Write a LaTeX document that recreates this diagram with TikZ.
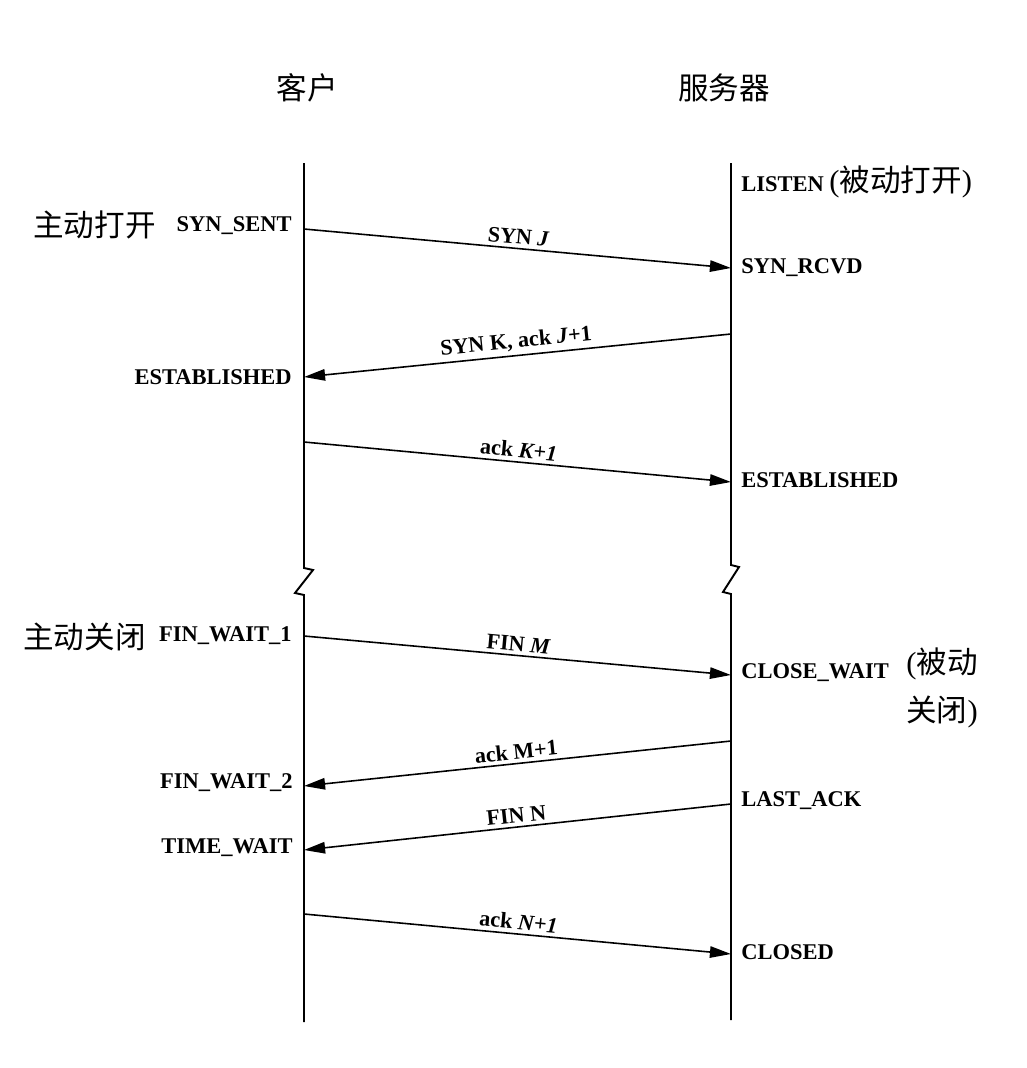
\documentclass[tikz,border=0pt]{standalone}
\usepackage{fontspec}
\setmainfont{Liberation Serif}
\newfontfamily\cjk{Noto Sans CJK SC}
\usetikzlibrary{arrows.meta, positioning}

\begin{document}
\begin{tikzpicture}[x=0.02cm, y=-0.02cm,
  timeline/.style={draw=black, line width=1.1pt},
  msg/.style={draw=black, line width=0.9pt, -{Triangle[length=12pt, width=6.5pt]}},
  msglabel/.style={font=\bfseries\fontsize{12.6}{14}\selectfont, sloped, above, inner sep=2pt, pos=0.5},
  state/.style={font=\bfseries\fontsize{12.8}{14}\selectfont, inner sep=0pt},
  cjklabel/.style={font=\cjk\fontsize{17.4}{27}\selectfont, inner sep=0pt},
]
\useasboundingbox (0,0) rectangle (1027,1068);

% Column titles
\node[cjklabel] (client) at (307,88) {客户};
\node[cjklabel] (server) at (724,88) {服务器};

% Time lines, broken in the middle
\coordinate (ctop) at (304,163);
\coordinate (cbot) at (304,1022);
\coordinate (stop) at (731,163);
\coordinate (sbot) at (731,1020);
\draw[timeline] (ctop) -- (304,568) -- (313,570) -- (295,593) -- (304,595) -- (cbot);
\draw[timeline] (stop) -- (731,565) -- (739,567) -- (723,592) -- (731,594) -- (sbot);

% Message end points
\coordinate (c1) at (304,229);  \coordinate (s1) at (731,268);
\coordinate (s2) at (731,334);  \coordinate (c2) at (304,377);
\coordinate (c3) at (304,442);  \coordinate (s3) at (731,482);
\coordinate (c4) at (304,636);  \coordinate (s4) at (731,675);
\coordinate (s5) at (731,741);  \coordinate (c5) at (304,786);
\coordinate (s6) at (731,804);  \coordinate (c6) at (304,850);
\coordinate (c7) at (304,914);  \coordinate (s7) at (731,954);

% Connection setup
\draw[msg] (c1) -- node[msglabel] {SYN \textit{J}} (s1);
\draw[msg] (s2) -- node[msglabel] {SYN K, ack \textit{J}+1} (c2);
\draw[msg] (c3) -- node[msglabel] {ack \textit{K+1}} (s3);

% Connection teardown
\draw[msg] (c4) -- node[msglabel] {FIN \textit{M}} (s4);
\draw[msg] (s5) -- node[msglabel] {ack M+1} (c5);
\draw[msg] (s6) -- node[msglabel] {FIN N} (c6);
\draw[msg] (c7) -- node[msglabel] {ack \textit{N+1}} (s7);

% Server states
\node[state, anchor=west] (listen) at (741,182) {LISTEN {\mdseries\fontsize{17.4}{20}\selectfont(\cjk 被动打开\rmfamily)}};
\node[state, anchor=west] (synrcvd) at (741,268) {SYN\_RCVD};
\node[state, anchor=west] (sestab) at (741,480) {ESTABLISHED};
\node[state, anchor=west] (closewait) at (741,673) {CLOSE\_WAIT};
\node[cjklabel, anchor=west, align=left] (passclose) at (906,688) {{\rmfamily(}被动\\关闭{\rmfamily)}};
\node[state, anchor=west] (lastack) at (741,801) {LAST\_ACK};
\node[state, anchor=west] (closed) at (741,952) {CLOSED};

% Client states
\node[state, anchor=east] (synsent) at (292,226) {SYN\_SENT};
\node[cjklabel, anchor=east] (actopen) at (156,225) {主动打开};
\node[state, anchor=east] (cestab) at (292,377) {ESTABLISHED};
\node[state, anchor=east] (fw1) at (292,636) {FIN\_WAIT\_1};
\node[cjklabel, anchor=east] (actclose) at (146,637) {主动关闭};
\node[state, anchor=east] (fw2) at (293,783) {FIN\_WAIT\_2};
\node[state, anchor=east] (timewait) at (293,848) {TIME\_WAIT};

\end{tikzpicture}
\end{document}
